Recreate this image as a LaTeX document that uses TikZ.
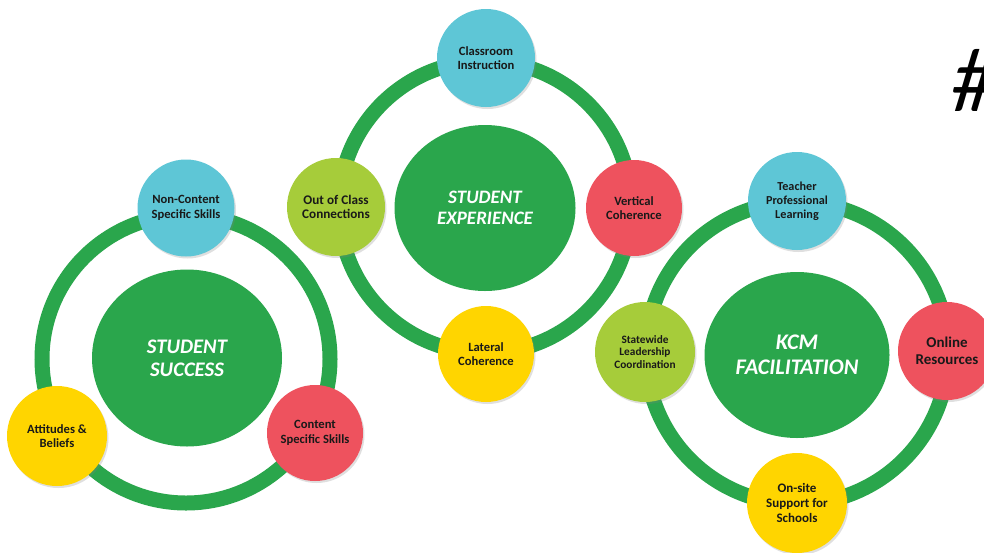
\documentclass[tikz,border=0pt]{standalone}
\usepackage{fontspec}
\setmainfont{Carlito}
\usetikzlibrary{shapes.geometric,shadows}
\definecolor{kgreen}{RGB}{42,166,76}
\definecolor{kblue}{RGB}{94,198,214}
\definecolor{kred}{RGB}{238,82,94}
\definecolor{kyellow}{RGB}{255,213,0}
\definecolor{klime}{RGB}{166,204,58}
\definecolor{ktext}{RGB}{25,25,25}
\begin{document}
\begin{tikzpicture}[x=1pt,y=-1pt,
  ringpath/.style={circle, draw=kgreen, line width=15pt, inner sep=0pt, minimum size=#1},
  hub/.style={ellipse, fill=kgreen, text=white, align=center, inner sep=0pt},
  sat/.style={circle, fill=#1, text=ktext, align=center, inner sep=0pt, minimum size=98pt,
    font=\fontsize{12.6}{14.3}\selectfont\bfseries,
    drop shadow={shadow xshift=1.5pt, shadow yshift=-2pt, opacity=0.25}},
  hubfont/.style 2 args={font=\fontsize{#1}{#2}\selectfont\bfseries\itshape}
]
\useasboundingbox (0,0) rectangle (984,552);
\fill[white] (0,0) rectangle (984,552);

% rings
\node[ringpath=288pt] (ringL) at (186,359) {};
\node[ringpath=292pt] (ringM) at (485,207) {};
\node[ringpath=302pt] (ringR) at (797,353) {};

% hubs
\node[hub, minimum width=190pt, minimum height=177pt, hubfont={20.7}{23}] (hubL) at (187,358) {STUDENT\\SUCCESS};
\node[hub, minimum width=181pt, minimum height=166pt, hubfont={19}{21.5}] (hubM) at (485,208) {STUDENT\\EXPERIENCE};
\node[hub, minimum width=185pt, minimum height=166pt, hubfont={22.3}{25}] (hubR) at (797,355) {KCM\\FACILITATION};

% left satellites
\node[sat=kblue, minimum size=97pt] (ncs) at (186,208) {Non-Content\\Specific Skills};
\node[sat=kyellow, minimum size=100pt] (ab) at (57,436) {Attitudes \&\\Beliefs};
\node[sat=kred, minimum size=96pt] (css) at (315,433) {Content\\Specific Skills};

% middle satellites
\node[sat=kblue] (ci) at (486,58) {Classroom\\Instruction};
\node[sat=klime, font=\fontsize{13.2}{14.5}\selectfont\bfseries] (occ) at (336,207) {Out of Class\\Connections};
\node[sat=kred, minimum size=96pt] (vc) at (634,208) {Vertical\\Coherence};
\node[sat=kyellow, minimum size=96pt] (lc) at (486,354) {Lateral\\Coherence};

% right satellites
\node[sat=kblue, font=\fontsize{12.2}{14}\selectfont\bfseries] (tpl) at (797,201) {Teacher\\Professional\\Learning};
\node[sat=klime, minimum size=100pt, font=\fontsize{11.3}{12.8}\selectfont\bfseries] (slc) at (645,352) {Statewide\\Leadership\\Coordination};
\node[sat=kred, font=\fontsize{15}{16.5}\selectfont\bfseries] (or) at (947,351) {Online\\Resources};
\node[sat=kyellow, minimum size=100pt, font=\fontsize{13}{14.6}\selectfont\bfseries] (oss) at (797,503) {On-site\\Support for\\Schools};

% partial heading at top right
\node[anchor=west, inner sep=0pt, font=\fontsize{92}{92}\selectfont\itshape] (hash) at (951,80) {\#};
\end{tikzpicture}
\end{document}
